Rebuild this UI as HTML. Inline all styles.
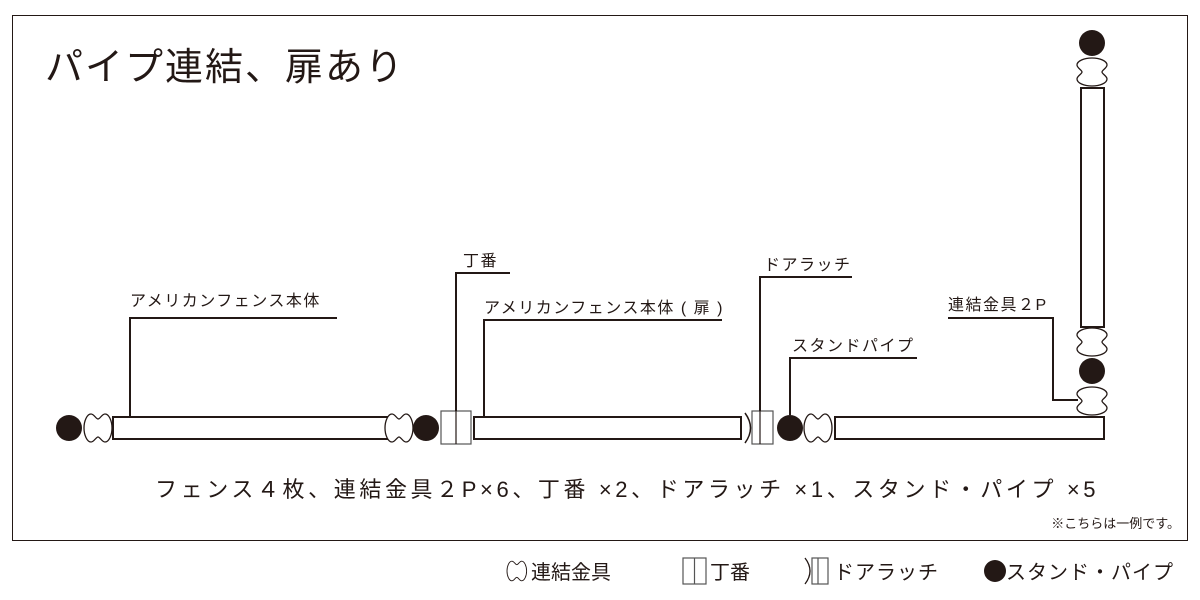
<!DOCTYPE html>
<html><head><meta charset="utf-8"><style>
html,body{margin:0;padding:0;background:#fff;}
svg{display:block;}
text{font-family:"Liberation Sans","Noto Sans CJK JP",sans-serif;fill:#231815;}
</style></head><body>
<svg width="1200" height="600" viewBox="0 0 1200 600" xmlns="http://www.w3.org/2000/svg">
<defs>
<g id="ch">
<path d="M7,-14 C3,-14 0,-7 0,0 C0,7 3,14 7,14 C10,14 12,9 14,9 C16,9 18,14 21,14 C25,14 28,7 28,0 C28,-7 25,-14 21,-14 C18,-14 16,-9 14,-9 C12,-9 10,-14 7,-14 Z" fill="#fff" stroke="#231815" stroke-width="1.3"/>
</g>
<g id="cv">
<path d="M-15,7 C-15,3 -8,0 0,0 C8,0 15,3 15,7 C15,10 10,12 10,14 C10,16 15,18 15,21 C15,25 8,28 0,28 C-8,28 -15,25 -15,21 C-15,18 -10,16 -10,14 C-10,12 -15,10 -15,7 Z" fill="#fff" stroke="#231815" stroke-width="1.3"/>
</g>
</defs>
<rect x="12.5" y="15.5" width="1175" height="525" fill="none" stroke="#231815" stroke-width="1"/>
<text x="45" y="80" font-size="38" letter-spacing="2">パイプ連結、扉あり</text>

<circle cx="69" cy="428" r="13" fill="#231815"/>
<use href="#ch" x="84" y="428"/>
<rect x="113" y="417" width="281" height="22" fill="#fff" stroke="#231815" stroke-width="2"/>
<use href="#ch" x="385" y="428"/>
<circle cx="426" cy="428" r="13" fill="#231815"/>
<rect x="441" y="411" width="30" height="33" fill="#fff" stroke="#555" stroke-width="1.2"/>
<line x1="456" y1="411" x2="456" y2="444" stroke="#231815" stroke-width="1.2"/>
<rect x="474" y="417" width="267" height="22" fill="#fff" stroke="#231815" stroke-width="2"/>
<path d="M745,413 Q756,428 745,443" fill="none" stroke="#231815" stroke-width="1.5"/>
<rect x="752" y="411" width="21" height="33" fill="#fff" stroke="#555" stroke-width="1.2"/>
<line x1="760" y1="411" x2="760" y2="444" stroke="#231815" stroke-width="1.2"/>
<circle cx="790" cy="428" r="13" fill="#231815"/>
<use href="#ch" x="804" y="428"/>
<rect x="835" y="417" width="269" height="22" fill="#fff" stroke="#231815" stroke-width="2"/>

<circle cx="1092" cy="43" r="13" fill="#231815"/>
<use href="#cv" x="1092" y="58"/>
<rect x="1081" y="88" width="23" height="239" fill="#fff" stroke="#231815" stroke-width="2"/>
<use href="#cv" x="1092" y="328"/>
<circle cx="1092" cy="371" r="13" fill="#231815"/>
<use href="#cv" x="1092" y="387"/>

<g fill="none" stroke="#231815" stroke-width="2">
<polyline points="130,417 130,318 337,318"/>
<polyline points="456,411 456,273 510,273"/>
<polyline points="484,417 484,320 722,320"/>
<polyline points="760,411 760,277 852,277"/>
<polyline points="790,415 790,358 917,358"/>
<polyline points="948,318 1053,318 1053,400 1078,400"/>
</g>
<g font-size="16" letter-spacing="1.5">
<text x="130" y="306">アメリカンフェンス本体</text>
<text x="463" y="266">丁番</text>
<text x="484" y="313">アメリカンフェンス本体 ( 扉 )</text>
<text x="764" y="270">ドアラッチ</text>
<text x="792" y="351">スタンドパイプ</text>
<text x="948" y="310">連結金具２P</text>
</g>
<text x="155" y="497" font-size="22" letter-spacing="3.6">フェンス４枚、連結金具２P×6、丁番 ×2、ドアラッチ ×1、スタンド・パイプ ×5</text>
<text x="1180" y="528" font-size="13" text-anchor="end">※こちらは一例です。</text>

<g transform="translate(507,571) scale(0.7)"><use href="#ch" x="0" y="0"/></g>
<text x="531" y="579" font-size="20">連結金具</text>
<rect x="683" y="558" width="23" height="26" fill="#fff" stroke="#555" stroke-width="1.2"/>
<line x1="694.5" y1="558" x2="694.5" y2="584" stroke="#555" stroke-width="1.2"/>
<text x="710" y="579" font-size="20">丁番</text>
<path d="M805,558 Q815,571 805,584" fill="none" stroke="#231815" stroke-width="1.3"/>
<rect x="812" y="558" width="16" height="26" fill="#fff" stroke="#555" stroke-width="1.2"/>
<line x1="818" y1="558" x2="818" y2="584" stroke="#555" stroke-width="1.2"/>
<text x="834" y="579" font-size="20" letter-spacing="1">ドアラッチ</text>
<circle cx="995" cy="571" r="11" fill="#231815"/>
<text x="1006" y="579" font-size="20" letter-spacing="1">スタンド・パイプ</text>
</svg>
</body></html>
